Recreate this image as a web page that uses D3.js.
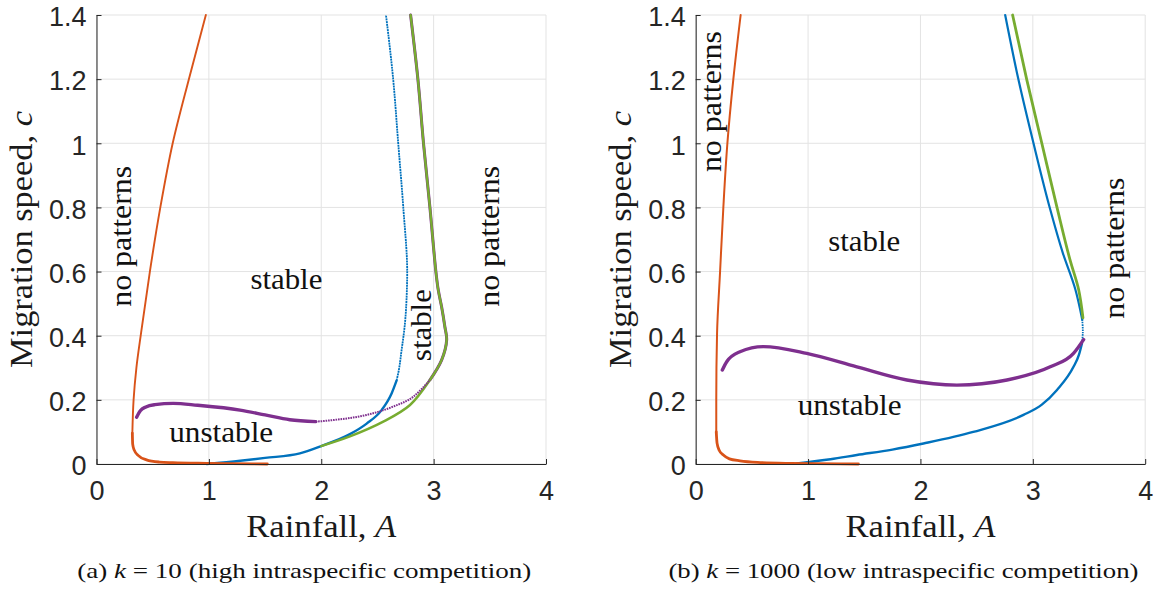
<!DOCTYPE html>
<html>
<head>
<meta charset="utf-8">
<script src="https://cdn.jsdelivr.net/npm/d3@7"></script>
<style>
  html, body { margin: 0; padding: 0; background: #fff; }
  svg { display: block; }
</style>
</head>
<body>
<svg id="chart" width="1157" height="589"></svg>
<script>
// ---------- data (A = rainfall, c = migration speed) ----------
const xTicks = [0, 1, 2, 3, 4];
const yTicks = [0, 0.2, 0.4, 0.6, 0.8, 1, 1.2, 1.4];
const yTickLabels = ["0", "0.2", "0.4", "0.6", "0.8", "1", "1.2", "1.4"];

// panel (a): k = 10
const aOrangeUp = [[0.319,0.096],[0.33,0.2],[0.355,0.3],[0.397,0.41],[0.475,0.6],[0.568,0.8],[0.678,1.0],[0.822,1.2],[0.973,1.4]];
const aOrangeLow = [[0.319,0.096],[0.322,0.062],[0.335,0.044],[0.37,0.027],[0.445,0.013],[0.56,0.006],[0.68,0.004],[0.98,0.002],[1.2,0.001],[1.52,0.0]];
const aBlueLow = [[0.98,0.0],[1.28,0.01],[1.5,0.019],[1.81,0.033],[2.0,0.056],[2.255,0.093],[2.404,0.126],[2.537,0.168],[2.626,0.22],[2.67,0.26]];
const aBlueUp = [[2.67,0.26],[2.685,0.283],[2.715,0.355],[2.745,0.439],[2.762,0.543],[2.765,0.595],[2.73,0.8],[2.685,1.0],[2.64,1.2],[2.576,1.4]];
const aGreen = [[2.0,0.056],[2.255,0.086],[2.552,0.132],[2.79,0.184],[2.967,0.262],[3.071,0.324],[3.116,0.387],[3.10,0.428],[3.071,0.49],[3.041,0.543],[3.02,0.6],[2.967,0.8],[2.91,1.0],[2.86,1.2],[2.795,1.4]];
const aPurpleThick = [[0.357,0.146],[0.39,0.166],[0.44,0.178],[0.52,0.185],[0.683,0.189],[0.9,0.183],[1.277,0.168],[1.5,0.153],[1.72,0.138],[1.95,0.132]];
const aPurpleThin = [[1.95,0.132],[2.107,0.137],[2.404,0.153],[2.64,0.179],[2.82,0.21],[2.967,0.262]];
const aPurpleUnder = [[2.967,0.262],[3.071,0.324],[3.116,0.387],[3.10,0.428],[3.071,0.49],[3.041,0.543],[3.02,0.6],[2.967,0.8],[2.91,1.0],[2.86,1.2],[2.795,1.4]];

// panel (b): k = 1000
const bOrangeUp = [[0.183,0.1],[0.183,0.2],[0.19,0.407],[0.217,0.6],[0.246,0.8],[0.282,1.0],[0.335,1.2],[0.40,1.4]];
const bOrangeLow = [[0.183,0.1],[0.19,0.065],[0.21,0.042],[0.246,0.028],[0.3,0.016],[0.394,0.01],[0.55,0.005],[0.84,0.002],[1.448,0.0]];
const bBlueLow = [[0.9,0.002],[1.2,0.015],[1.434,0.028],[1.75,0.045],[2.027,0.064],[2.47,0.10],[2.917,0.153],[3.08,0.185],[3.215,0.231],[3.362,0.303],[3.41,0.34],[3.437,0.376]];
const bBlueDot = [[3.437,0.376],[3.445,0.41],[3.44,0.45]];
const bBlueUp = [[3.44,0.45],[3.378,0.545],[3.268,0.657],[3.15,0.8],[3.006,1.0],[2.873,1.197],[2.754,1.4]];
const bGreen = [[3.446,0.456],[3.407,0.545],[3.333,0.634],[3.215,0.8],[3.08,1.0],[2.947,1.197],[2.82,1.4]];
const bPurple = [[0.237,0.293],[0.276,0.319],[0.394,0.35],[0.602,0.366],[0.988,0.345],[1.434,0.303],[1.879,0.262],[2.324,0.246],[2.77,0.262],[3.155,0.303],[3.362,0.345],[3.452,0.388]];

// region labels: [text, A, c, rotated]
const aLabels = [["no patterns",0.31,0.71,true],["stable",1.69,0.545,false],["unstable",1.11,0.07,false],["stable",2.98,0.433,true],["no patterns",3.58,0.71,true]];
const bLabels = [["no patterns",0.225,1.13,true],["stable",1.5,0.665,false],["unstable",1.37,0.153,false],["no patterns",3.81,0.673,true]];
const captions = ["(a) |k| = 10 (high intraspecific competition)", "(b) |k| = 1000 (low intraspecific competition)"];

// ---------- drawing ----------
const svg = d3.select("#chart");
const C = { blue: "#0072BD", orange: "#D95319", purple: "#7E2F8E", green: "#77AC30" };
const serif = "'Liberation Serif'";
const sans = "'Liberation Sans'";

function drawPanel(x0, series, labels, caption, capWidth) {
  const x = d3.scaleLinear().domain([0, 4]).range([x0, x0 + 449.5]);
  const y = d3.scaleLinear().domain([0, 1.4]).range([464, 15]);
  const g = svg.append("g");

  // grid
  g.append("g").selectAll("line").data(xTicks).join("line")
    .attr("x1", d => x(d)).attr("x2", d => x(d)).attr("y1", y(0)).attr("y2", y(1.4))
    .attr("stroke", "#e3e3e3").attr("stroke-width", 1);
  g.append("g").selectAll("line").data(yTicks).join("line")
    .attr("x1", x(0)).attr("x2", x(4)).attr("y1", d => y(d)).attr("y2", d => y(d))
    .attr("stroke", "#e3e3e3").attr("stroke-width", 1);

  // curves
  series.forEach(s => {
    const line = d3.line().x(d => x(d[0])).y(d => y(d[1])).curve(s.curve);
    g.append("path").attr("d", line(s.data)).attr("fill", "none")
      .attr("stroke", s.color).attr("stroke-width", s.w)
      .attr("stroke-dasharray", s.dash || null)
      .attr("stroke-linecap", s.dash ? "butt" : "round").attr("stroke-linejoin", "round");
  });

  // axes
  const ax = d3.axisBottom(x).tickValues(xTicks).tickFormat(d3.format("d")).tickSizeInner(-5).tickSizeOuter(0).tickPadding(11);
  const ay = d3.axisLeft(y).tickValues(yTicks).tickFormat((d, i) => yTickLabels[i]).tickSizeInner(-5).tickSizeOuter(0).tickPadding(10);
  const gx = g.append("g").attr("transform", `translate(0,${y(0)})`).call(ax);
  const gy = g.append("g").attr("transform", `translate(${x(0)},0)`).call(ay);
  [gx, gy].forEach(a => {
    a.attr("font-family", null).attr("font-size", null);
    a.select(".domain").attr("stroke", "#262626").attr("stroke-width", 1);
    a.selectAll(".tick line").attr("stroke", "#262626");
    a.selectAll(".tick text").attr("fill", "#262626").style("font-family", sans).style("font-size", "27px");
  });
  gx.selectAll(".tick text").attr("dy", "0.92em");
  gy.selectAll(".tick text").attr("dy", "0.4em");

  // axis titles
  const xt = g.append("text").attr("x", x(2)).attr("y", 537).attr("text-anchor", "middle")
    .style("font-family", serif).style("font-size", "31px").attr("fill", "#1a1a1a")
    .attr("textLength", 150).attr("lengthAdjust", "spacingAndGlyphs");
  xt.append("tspan").text("Rainfall, ");
  xt.append("tspan").style("font-style", "italic").text("A");

  const yt = g.append("text").attr("transform", `translate(${x0 - 64.5},${(y(0) + y(1.4)) / 2}) rotate(-90)`)
    .attr("text-anchor", "middle").style("font-family", serif).style("font-size", "31px").attr("fill", "#1a1a1a")
    .attr("textLength", 257).attr("lengthAdjust", "spacingAndGlyphs");
  yt.append("tspan").text("Migration speed, ");
  yt.append("tspan").style("font-style", "italic").text("c");

  // region labels
  labels.forEach(([t, a, c, rot]) => {
    const len = { "no patterns": 141, "stable": 72, "unstable": 104 }[t];
    const el = g.append("text").attr("text-anchor", "middle")
      .style("font-family", serif).style("font-size", "29px").attr("fill", "#111")
      .attr("textLength", len).attr("lengthAdjust", "spacingAndGlyphs").text(t);
    if (rot) el.attr("transform", `translate(${x(a)},${y(c)}) rotate(-90)`);
    else el.attr("x", x(a)).attr("y", y(c));
  });

  // caption
  const parts = caption.split("|");
  const ct = g.append("text").attr("x", x(2) - 17).attr("y", 578).attr("text-anchor", "middle")
    .style("font-family", serif).style("font-size", "22px").attr("fill", "#111")
    .attr("textLength", capWidth).attr("lengthAdjust", "spacingAndGlyphs");
  ct.append("tspan").text(parts[0]);
  ct.append("tspan").style("font-style", "italic").text(parts[1]);
  ct.append("tspan").text(parts[2]);
}

const mX = d3.curveMonotoneX, mY = d3.curveMonotoneY, cr = d3.curveCatmullRom.alpha(0.5);

drawPanel(96.5, [
  { data: aBlueLow, color: C.blue, w: 2.4, curve: mX },
  { data: aBlueUp, color: C.blue, w: 1.8, dash: "2 0.7", curve: mY },
  { data: aOrangeUp, color: C.orange, w: 1.9, curve: mY },
  { data: aOrangeLow, color: C.orange, w: 2.8, curve: mX },
  { data: aPurpleUnder, color: C.purple, w: 3.0, curve: cr },
  { data: aGreen, color: C.green, w: 2.4, curve: cr },
  { data: aPurpleThin, color: C.purple, w: 2.0, dash: "1.6 0.9", curve: mX },
  { data: aPurpleThick, color: C.purple, w: 3.4, curve: mX }
], aLabels, captions[0], 454);

drawPanel(695.7, [
  { data: bBlueLow, color: C.blue, w: 2.4, curve: mX },
  { data: bBlueDot, color: C.blue, w: 1.8, dash: "1.6 0.9", curve: cr },
  { data: bBlueUp, color: C.blue, w: 2.2, curve: mY },
  { data: bOrangeUp, color: C.orange, w: 2.0, curve: mY },
  { data: bOrangeLow, color: C.orange, w: 2.8, curve: mX },
  { data: bGreen, color: C.green, w: 2.8, curve: mY },
  { data: bPurple, color: C.purple, w: 3.4, curve: mX }
], bLabels, captions[1], 470);
</script>
</body>
</html>
